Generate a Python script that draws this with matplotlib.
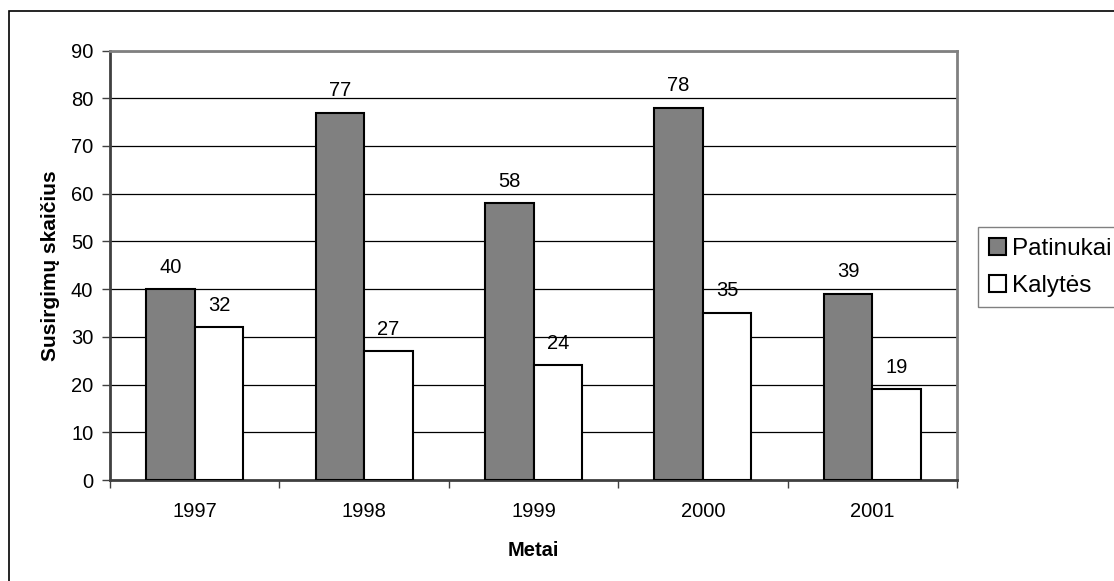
import matplotlib
matplotlib.use("Agg")
import matplotlib.pyplot as plt
import numpy as np
from matplotlib.patches import Rectangle

plt.rcParams['font.family'] = ['Liberation Sans', 'DejaVu Sans']

years = ['1997', '1998', '1999', '2000', '2001']
patinukai = [40, 77, 58, 78, 39]
kalytes = [32, 27, 24, 35, 19]

W, H = 1114, 581
fig = plt.figure(figsize=(W / 100, H / 100), dpi=100)

# outer chart border (only left and top edges fall inside the image)
fig.patches.append(Rectangle((9 / W, -0.1), 1.2, 1.1 - 11 / H,
                             transform=fig.transFigure, fill=False,
                             edgecolor='black', linewidth=1.2))

ax = fig.add_axes([110 / W, 1 - 480 / H, (957 - 110) / W, (480 - 50.5) / H])

x = np.arange(len(years))
bw = 0.286
b1 = ax.bar(x - bw / 2, patinukai, bw, color='#808080', edgecolor='black',
            linewidth=1.5, label='Patinukai', zorder=3)
b2 = ax.bar(x + bw / 2, kalytes, bw, color='white', edgecolor='black',
            linewidth=1.5, label='Kalytės', zorder=3)

for bars, vals in ((b1, patinukai), (b2, kalytes)):
    for rect, v in zip(bars, vals):
        ax.annotate(str(v), (rect.get_x() + rect.get_width() / 2, v),
                    xytext=(0, 9), textcoords='offset points',
                    ha='center', va='bottom', fontsize=14.5)

ax.set_xlim(-0.5, len(years) - 0.5)
ax.set_ylim(0, 90)
ax.set_yticks(range(0, 91, 10))
ax.yaxis.grid(True, color='black', linewidth=0.9, zorder=0)
ax.set_axisbelow(True)

ax.set_xticks(x)
ax.set_xticklabels(years, fontsize=14.5)
ax.set_xticks(np.arange(-0.5, len(years), 1), minor=True)
ax.tick_params(axis='x', which='major', length=0, pad=16)
ax.tick_params(axis='x', which='minor', length=6, width=1, color='#404040')
ax.tick_params(axis='y', length=6, width=1, color='#404040', labelsize=14.5, pad=6)

for side in ('top', 'right'):
    ax.spines[side].set_color('#808080')
    ax.spines[side].set_linewidth(2)
for side in ('left', 'bottom'):
    ax.spines[side].set_color('#404040')
    ax.spines[side].set_linewidth(2)

ax.set_xlabel('Metai', fontsize=14.5, fontweight='bold', labelpad=14)
ax.set_ylabel('Susirgimų skaičius', fontsize=15, fontweight='bold', labelpad=8)

leg = fig.legend(handles=[b1, b2], loc='upper left',
                 bbox_to_anchor=(978 / W, 1 - 227 / H), fontsize=17.5,
                 frameon=True, fancybox=False, borderpad=0.45,
                 handlelength=0.7, handleheight=0.7, handletextpad=0.25,
                 labelspacing=0.6, borderaxespad=0)
leg.get_frame().set_edgecolor('#606060')
leg.get_frame().set_linewidth(1)

fig.savefig('out.png', dpi=100, facecolor='white')
